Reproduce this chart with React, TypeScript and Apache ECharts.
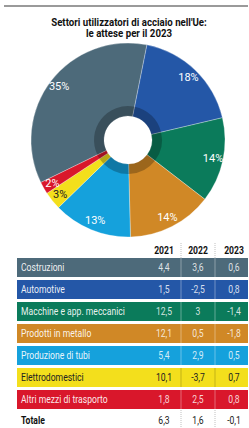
import React, { useEffect, useRef } from "react";
import * as echarts from "echarts";

const sectors = [
  "Costruzioni",
  "Automotive",
  "Macchine e app. meccanici",
  "Prodotti in metallo",
  "Produzione di tubi",
  "Elettrodomestici",
  "Altri mezzi di trasporto",
];
const shares = [35, 18, 14, 14, 13, 3, 2];
const colors = ["#4d6a7a", "#2457a7", "#0b7b5b", "#d08826", "#15a1dc", "#f3df1c", "#d9172b"];
const labelColors = ["#fff", "#fff", "#fff", "#fff", "#fff", "#222", "#fff", "#fff"];
const years = ["2021", "2022", "2023"];
const v2021 = [4.4, 1.5, 12.5, 12.1, 5.4, 10.1, 1.8];
const v2022 = [3.6, -2.5, 3, 0.5, 2.9, -3.7, 2.5];
const v2023 = [0.6, 0.8, -1.4, -1.8, 0.5, 0.7, 0.8];
const totalLabel = "Totale";
const totals = [6.3, 1.6, -0.1];
const titleLines = ["Settori utilizzatori di acciaio nell'Ue:", "le attese per il 2023"];

const FONT = "Roboto, 'Noto Sans', sans-serif";
const SX = 0.86;
const fmt = (v: number) => String(v).replace(".", ",");

function txt(text: string, x: number, y: number, opts: any = {}) {
  return {
    type: "text",
    x,
    y,
    scaleX: opts.scaleX ?? SX,
    silent: true,
    style: {
      text,
      x: 0,
      y: 0,
      align: opts.align ?? "left",
      verticalAlign: "middle",
      fill: opts.fill ?? "#111",
      opacity: opts.opacity ?? 1,
      font: `${opts.bold ? "bold " : ""}${opts.size ?? 10}px ${FONT}`,
    },
  };
}

export default function App() {
  const ref = useRef<HTMLDivElement>(null);
  useEffect(() => {
    document.body.style.margin = "0";
    const chart = echarts.init(ref.current!, null, { renderer: "svg" });

    const colX = [164, 198, 234];
    const sepX = [181, 215];
    const rowX = 17;
    const rowW = 231;
    const rowH = 19;
    const rowStart = 258;
    const rowStep = 22;

    const graphics: any[] = [];
    graphics.push({
      type: "line",
      shape: { x1: 4, y1: 6, x2: 248, y2: 6 },
      style: { stroke: "#9a9a9a", lineWidth: 2 },
    });
    titleLines.forEach((t, i) => {
      graphics.push(txt(t, 129, 22 + i * 11.5, { align: "center", bold: true, size: 11, scaleX: 0.88 }));
    });
    years.forEach((y, i) => {
      graphics.push(txt(y, colX[i], 250, { align: "center", bold: true }));
    });
    sepX.forEach((x) => {
      graphics.push({
        type: "line",
        shape: { x1: x, y1: 243, x2: x, y2: 258 },
        style: { stroke: "#b0b0b0", lineWidth: 0.8, lineDash: [1, 1] },
      });
    });
    sectors.forEach((s, r) => {
      const top = rowStart + r * rowStep;
      const cy = top + rowH / 2;
      const tc = labelColors[r];
      graphics.push({
        type: "rect",
        shape: { x: rowX, y: top, width: rowW, height: rowH },
        style: { fill: colors[r] },
      });
      sepX.forEach((x) => {
        graphics.push({
          type: "line",
          shape: { x1: x, y1: top, x2: x, y2: top + rowH },
          style: { stroke: r === 5 ? "rgba(0,0,0,0.25)" : "rgba(255,255,255,0.45)", lineWidth: 0.8 },
        });
      });
      graphics.push(txt(s, 21, cy, { fill: tc, opacity: r === 5 ? 1 : 0.92 }));
      [v2021[r], v2022[r], v2023[r]].forEach((v, i) => {
        graphics.push(txt(fmt(v), colX[i], cy, { align: "center", fill: tc, opacity: r === 5 ? 1 : 0.82 }));
      });
    });
    const ty = 420;
    graphics.push(txt(totalLabel, 21, ty, { bold: true }));
    totals.forEach((v, i) => {
      graphics.push(txt(fmt(v), colX[i], ty, { align: "center", fill: "#222" }));
    });
    sepX.forEach((x) => {
      graphics.push({
        type: "line",
        shape: { x1: x, y1: 410, x2: x, y2: 428 },
        style: { stroke: "#b0b0b0", lineWidth: 0.8, lineDash: [1, 1] },
      });
    });

    const pieData = sectors.map((s, i) => ({
      name: s,
      value: shares[i],
      itemStyle: { color: colors[i] },
    }));

    chart.setOption({
      animation: false,
      series: [
        {
          type: "pie",
          center: [128, 140],
          radius: [24, 97],
          startAngle: 206,
          silent: true,
          label: { show: false },
          labelLine: { show: false },
          itemStyle: { borderColor: "rgba(255,255,255,0.5)", borderWidth: 0.6 },
          data: pieData,
        },
        {
          type: "pie",
          center: [128, 140],
          radius: [24, 34],
          startAngle: 206,
          silent: true,
          label: { show: false },
          labelLine: { show: false },
          itemStyle: { color: "rgba(0,0,0,0.25)", borderWidth: 0 },
          data: sectors.map((s, i) => ({ name: s, value: shares[i] })),
        },
        {
          type: "pie",
          center: [128, 140],
          radius: [70, 98],
          startAngle: 206,
          silent: true,
          itemStyle: { color: "rgba(0,0,0,0)", borderWidth: 0 },
          labelLine: { show: false },
          data: sectors.map((s, i) => ({
            name: s,
            value: shares[i],
            label: {
              show: true,
              position: "inside",
              formatter: `${shares[i]}%`,
              color: labelColors[i],
              fontFamily: FONT,
              fontSize: 11,
            },
          })),
        },
      ],
      graphic: graphics,
    });
    return () => chart.dispose();
  }, []);
  return <div ref={ref} style={{ width: 249, height: 428 }} />;
}
